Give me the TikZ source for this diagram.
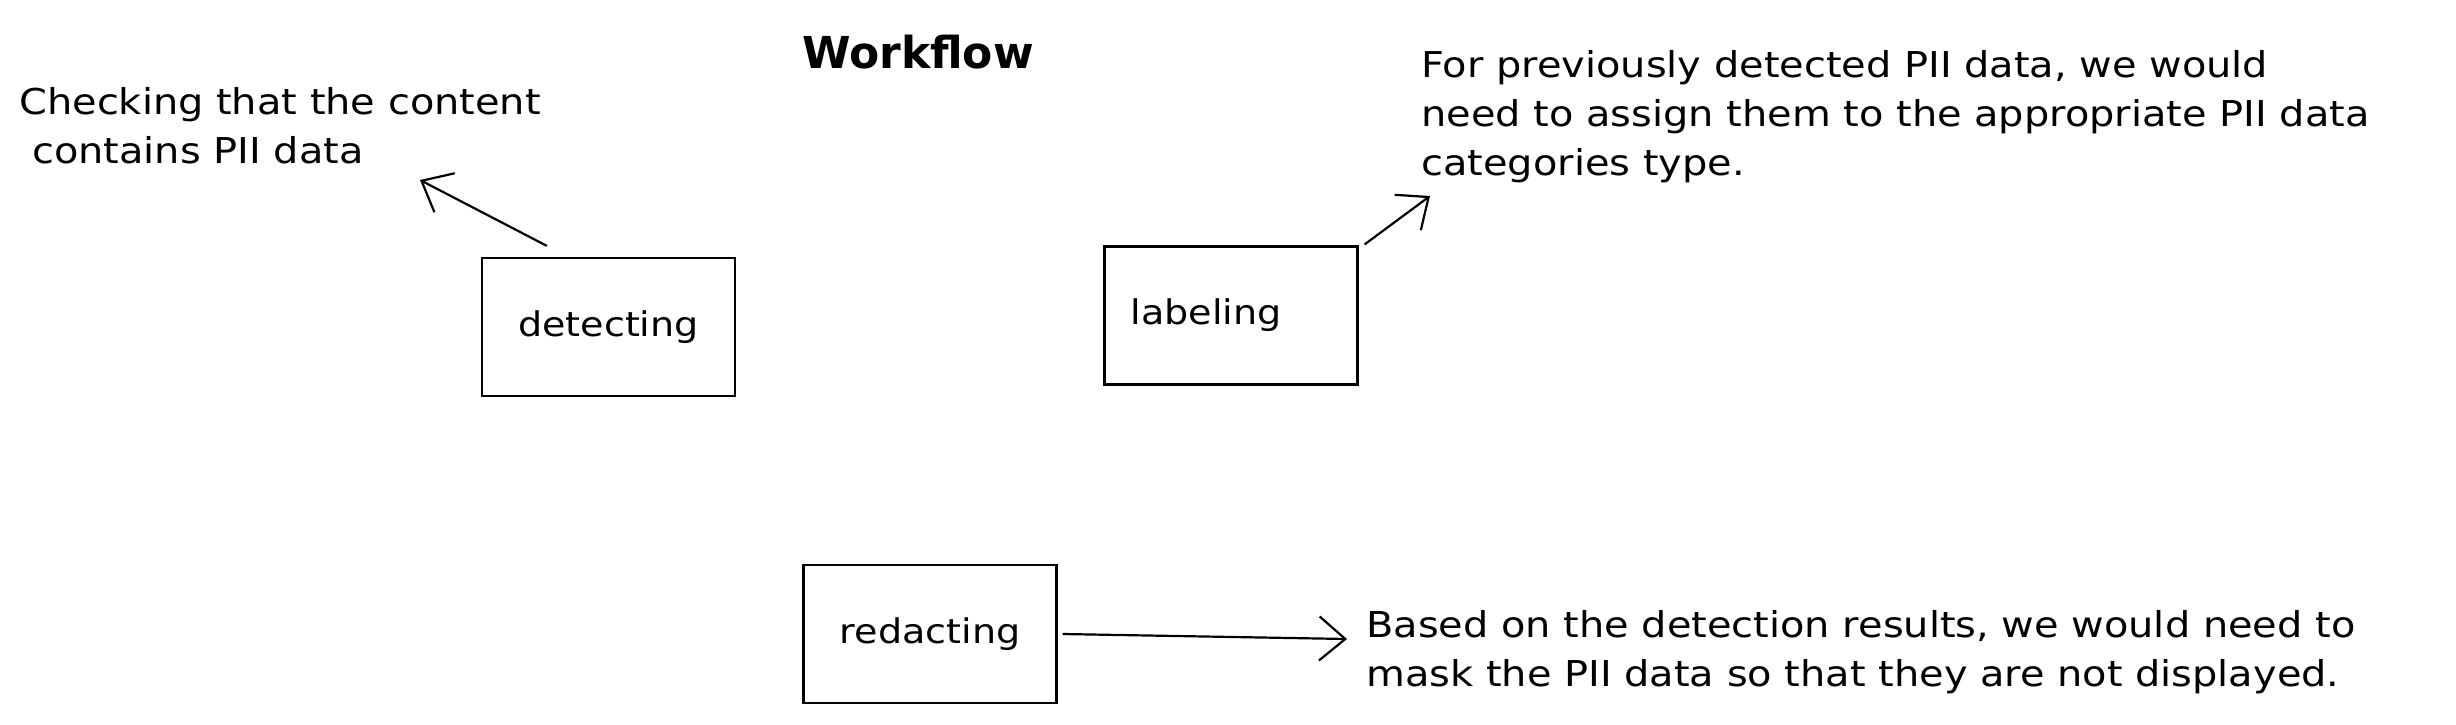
\documentclass[tikz,border=0pt]{standalone}
\usepackage{fontspec}
\setmainfont{DejaVu Sans}
\newfontfamily\sketchfont{DejaVu Sans}[FakeStretch=1.12]
\usetikzlibrary{arrows.meta}
\begin{document}
\begin{tikzpicture}[
        x=0.5pt, y=-0.5pt,
        stage/.style={
            draw,
            line width=1.1pt,
            minimum width=126.5pt,
            minimum height=69pt,
            inner sep=0pt,
            font=\sketchfont\fontsize{17}{20}\selectfont
        },
        note/.style={
            align=left,
            inner sep=0pt,
            anchor=west,
            font=\sketchfont\fontsize{17.8}{24.5}\selectfont
        },
        arr/.style={
            line width=1.1pt,
            -{Straight Barb[length=13pt,width=22pt,line width=1.1pt]}
        }
    ]
        \useasboundingbox (0,0) rectangle (2456,724);

        % Title
        \node[font=\fontsize{22}{26}\selectfont\bfseries] (title) at (918,52) {Workflow};

        % Detecting
        \node[stage] (detect) at (608.5,327) {detecting};
        \node[note] (checknote) at (19,125.5) {
            Checking that the content\\
            \ contains PII data
        };
        \coordinate (checktip) at (420,180);
        \draw[arr] ([xshift=33pt,yshift=5.5pt]detect.north west) -- (checktip);

        % Labeling
        \node[stage] (label) at (1231,315.5) {labeling\hspace*{25pt}};
        \node[note] (labelnote) at (1421,117) {
            For previously detected PII data, we would\\
            need to assign them to the appropriate PII data\\
            categories type.
        };
        \coordinate (labeltip) at (1430,196);
        \draw[arr] ([xshift=3pt,yshift=0.5pt]label.north east) -- (labeltip);

        % Redacting
        \node[stage] (redact) at (930,634) {redacting};
        \node[note] (basednote) at (1366,652) {
            Based on the detection results, we would need to\\
            mask the PII data so that they are not displayed.
        };
        \coordinate (basedtip) at (1347,639);
        \draw[arr] ([xshift=2.5pt]redact.east) -- (basedtip);
    \end{tikzpicture}
\end{document}
